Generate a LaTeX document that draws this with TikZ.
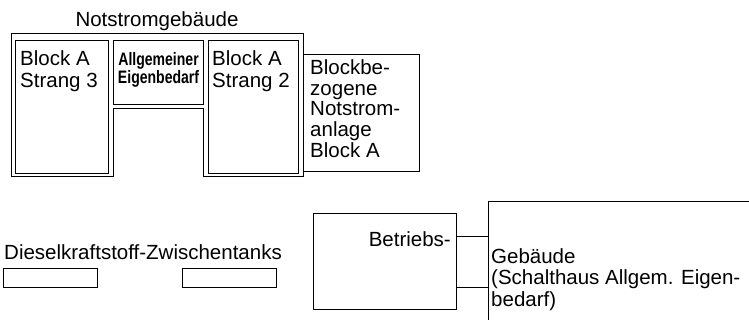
\documentclass[tikz,border=0pt]{standalone}
\usepackage{fontspec}
\setmainfont{Liberation Sans}
\newfontfamily\condfont[FakeStretch=0.78]{Liberation Sans}
\usetikzlibrary{positioning,calc}
\tikzset{
  room/.style={
    draw,
    line width=1.1pt,
    inner sep=0pt,
    anchor=north west
  },
  tank/.style={
    draw,
    line width=1pt,
    inner sep=0pt,
    anchor=north west,
    minimum width=94,
    minimum height=19
  },
  lbl/.style={
    inner sep=0pt,
    anchor=north west,
    align=left,
    font=\fontsize{20.5}{22}\selectfont
  },
  cond/.style={
    inner sep=0pt,
    anchor=north,
    align=center,
    font=\condfont\bfseries\fontsize{18}{15}\selectfont
  },
}

\begin{document}
\begin{tikzpicture}[x=1pt,y=-1pt]
\useasboundingbox (0,0) rectangle (749,320);
\clip (0,0) rectangle (749,320);
% Notstromgebaeude
\draw[line width=1pt] (11,34) -| (303,177) -| (203,109) -| (113,177) -- (11,177) -- cycle;
\node[lbl, anchor=base] (nsg) at (157,27) {Notstromgebäude};
\node[room, minimum width=93, minimum height=133] (str3) at (15,40) {};
\node[room, minimum width=90, minimum height=64] (aeb) at (113,40) {};
\node[room, minimum width=90, minimum height=133] (str2) at (208,40) {};
\node[room, minimum width=116, minimum height=117] (nsa) at (303,54) {};
\node[lbl] at ([shift={(5,10.5)}]str3.north west) {Block A\\Strang 3};
\node[cond] at ([yshift=-12]aeb.north) {Allgemeiner\\Eigenbedarf};
\node[lbl] at ([shift={(4,10.5)}]str2.north west) {Block A\\Strang 2};
\node[lbl, font=\fontsize{20.5}{20.75}\selectfont] at ([shift={(7,5.3)}]nsa.north west)
  {Blockbe-\\zogene\\Notstrom-\\anlage\\Block A};
% Zwischentanks
\node[lbl, anchor=base west] (dzt) at (4,259) {Dieselkraftstoff-Zwischentanks};
\foreach \x/\n in {3/L,182/R}{
  \node[tank] (tank\n) at (\x,268) {};
}
% Betriebs-Gebaeude
\node[room, minimum width=143, minimum height=96] (betr) at (313,213) {};
\node[lbl, anchor=base east] at (451,247) {Betriebs-};
\node[room, minimum width=320, minimum height=200] (geb) at (488,201) {};
\node[lbl, font=\fontsize{20.5}{21.5}\selectfont] at ([shift={(3,47.3)}]geb.north west)
  {Gebäude\\(Schalthaus Allgem. Eigen-\\bedarf)};
\foreach \y in {237,287}{
  \draw[line width=1pt] (betr.east |- 0,\y) -- (geb.west |- 0,\y);
}
\end{tikzpicture}
\end{document}
